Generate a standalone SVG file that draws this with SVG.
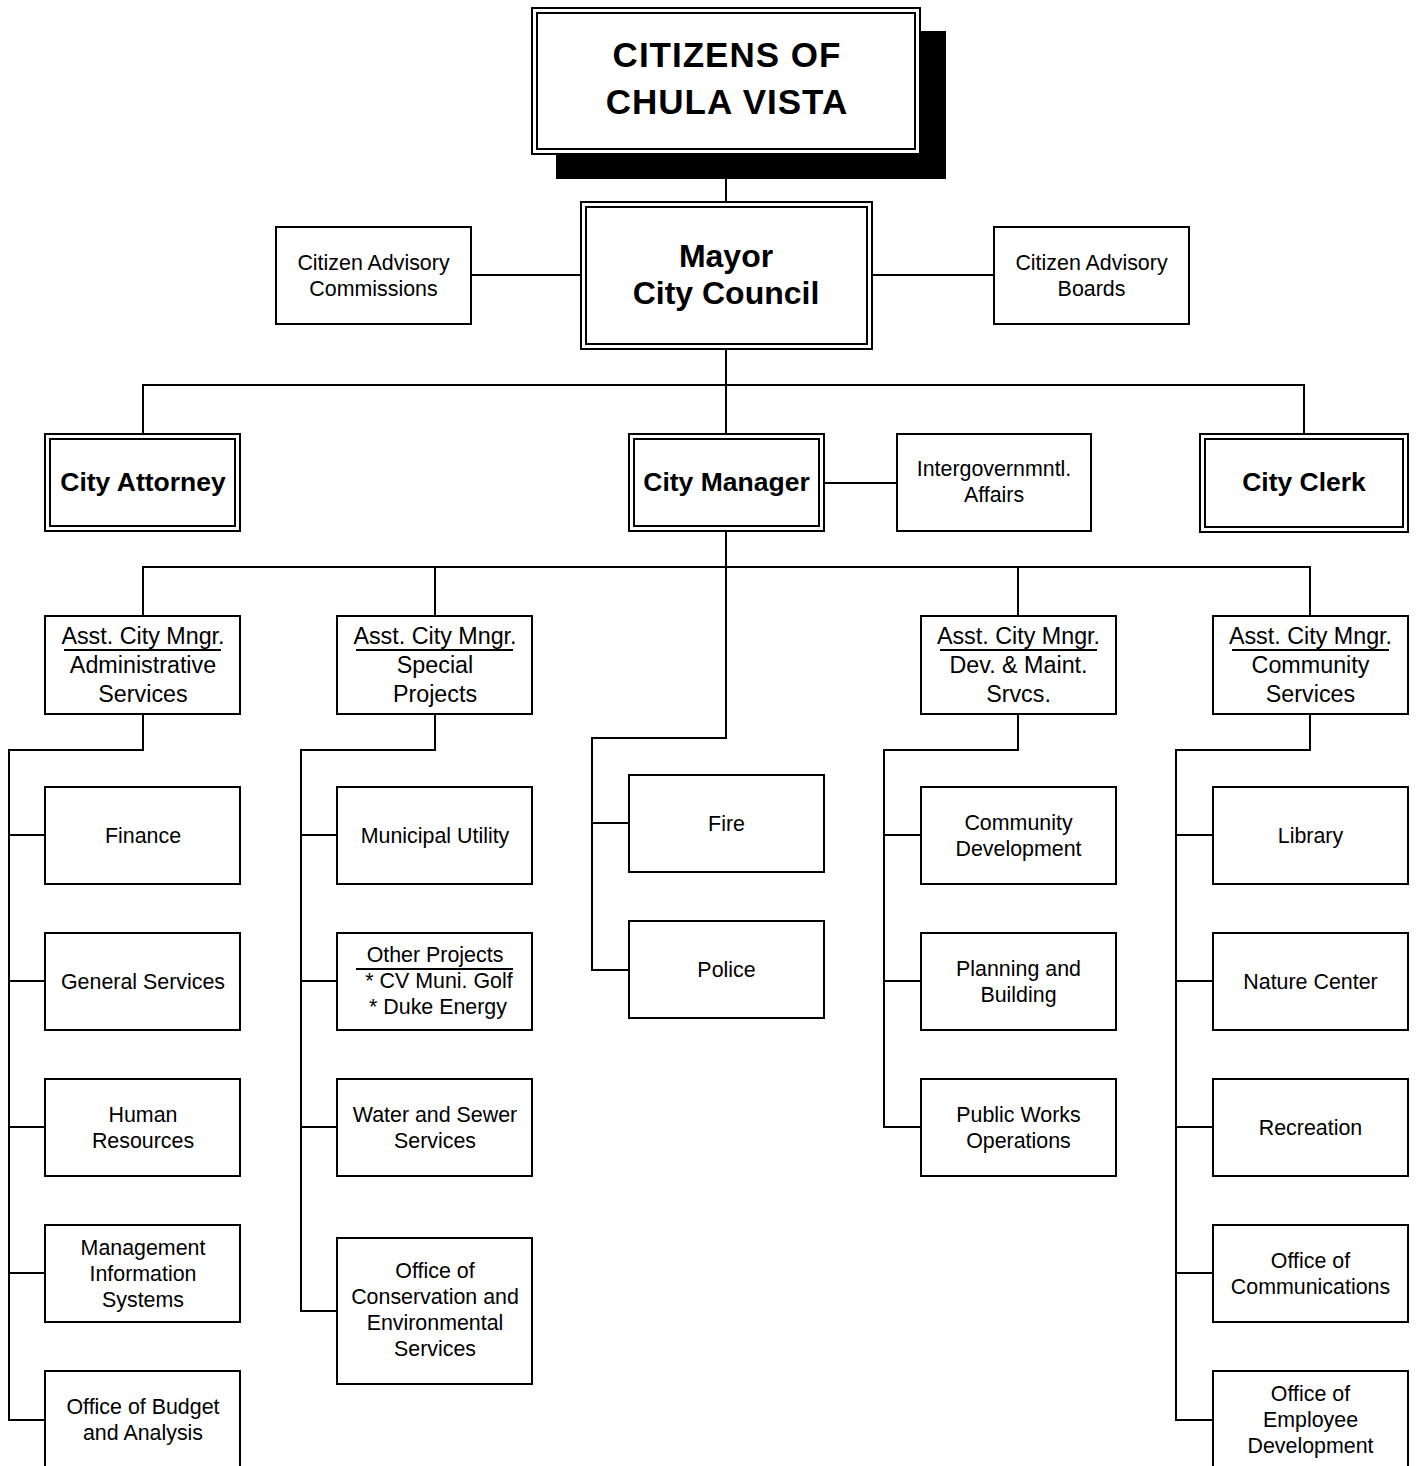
<svg xmlns="http://www.w3.org/2000/svg" width="1416" height="1466" viewBox="0 0 1416 1466">
<style>
.b{fill:#fff;stroke:#000;stroke-width:2}
.c{fill:none;stroke:#000;stroke-width:2}
text{font-family:"Liberation Sans",Arial,sans-serif;fill:#000;text-anchor:middle}
.t{font-size:21.4px}
.a{font-size:23.3px}
.h{font-size:26.5px;font-weight:bold}
.m{font-size:32px;font-weight:bold}
.x{font-size:35px;font-weight:bold;letter-spacing:1px}
.u{stroke:#000;stroke-width:2}
</style>
<rect width="1416" height="1466" fill="#fff"/>
<g id="connectors" class="c">
<path d="M726,179V202"/>
<path d="M471,275H580M872,275H994"/>
<path d="M726,349V434M143,434V385H1304V434"/>
<path d="M824,483H897"/>
<path d="M726,531V738H592V970H629M592,823H629"/>
<path d="M143,616V567H1310V616M435,567V616M1018,567V616"/>
<path d="M143,714V750H9V1420H45M9,835H45M9,981H45M9,1127H45M9,1273H45"/>
<path d="M435,714V750H301V1311H337M301,835H337M301,981H337M301,1127H337"/>
<path d="M1018,714V750H884V1127H921M884,835H921M884,981H921"/>
<path d="M1310,714V750H1176V1420H1213M1176,835H1213M1176,981H1213M1176,1127H1213M1176,1273H1213"/>
</g>
<g id="citizens">
<rect x="556" y="31" width="390" height="148" fill="#000"/>
<rect class="b" x="532" y="8" width="388" height="146"/>
<rect class="c" x="537" y="13" width="378" height="136"/>
<text class="x" x="727" y="67">CITIZENS OF</text>
<text class="x" x="727" y="114">CHULA VISTA</text>
</g>
<g id="mayor">
<rect class="b" x="581" y="202" width="291" height="147"/>
<rect class="c" x="586" y="207" width="281" height="137"/>
<text class="m" x="726" y="267">Mayor</text>
<text class="m" x="726" y="304">City Council</text>
</g>
<g id="commissions">
<rect class="b" x="276" y="227" width="195" height="97"/>
<text class="t" x="373.5" y="270">Citizen Advisory</text>
<text class="t" x="373.5" y="296">Commissions</text>
</g>
<g id="boards">
<rect class="b" x="994" y="227" width="195" height="97"/>
<text class="t" x="1091.5" y="270">Citizen Advisory</text>
<text class="t" x="1091.5" y="296">Boards</text>
</g>
<g id="attorney">
<rect class="b" x="45" y="434" width="195" height="97"/>
<rect class="c" x="50" y="439" width="185" height="87"/>
<text class="h" x="143" y="491">City Attorney</text>
</g>
<g id="manager">
<rect class="b" x="629" y="434" width="195" height="97"/>
<rect class="c" x="634" y="439" width="185" height="87"/>
<text class="h" x="726.5" y="491">City Manager</text>
</g>
<g id="intergov">
<rect class="b" x="897" y="434" width="194" height="97"/>
<text class="t" x="994" y="476">Intergovernmntl.</text>
<text class="t" x="994" y="502">Affairs</text>
</g>
<g id="clerk">
<rect class="b" x="1200" y="434" width="208" height="98"/>
<rect class="c" x="1205" y="439" width="198" height="88"/>
<text class="h" x="1304" y="491">City Clerk</text>
</g>
<g id="acm-admin">
<rect class="b" x="45" y="616" width="195" height="98"/>
<text class="a" x="143" y="644">Asst. City Mngr.</text>
<line class="u" x1="64" y1="650" x2="221" y2="650"/>
<text class="a" x="143" y="673">Administrative</text>
<text class="a" x="143" y="702">Services</text>
</g>
<g id="acm-special">
<rect class="b" x="337" y="616" width="195" height="98"/>
<text class="a" x="435" y="644">Asst. City Mngr.</text>
<line class="u" x1="356" y1="650" x2="513" y2="650"/>
<text class="a" x="435" y="673">Special</text>
<text class="a" x="435" y="702">Projects</text>
</g>
<g id="acm-dev">
<rect class="b" x="921" y="616" width="195" height="98"/>
<text class="a" x="1018.5" y="644">Asst. City Mngr.</text>
<line class="u" x1="940" y1="650" x2="1097" y2="650"/>
<text class="a" x="1018.5" y="673">Dev. &amp; Maint.</text>
<text class="a" x="1018.5" y="702">Srvcs.</text>
</g>
<g id="acm-community">
<rect class="b" x="1213" y="616" width="195" height="98"/>
<text class="a" x="1310.5" y="644">Asst. City Mngr.</text>
<line class="u" x1="1232" y1="650" x2="1389" y2="650"/>
<text class="a" x="1310.5" y="673">Community</text>
<text class="a" x="1310.5" y="702">Services</text>
</g>
<g id="finance">
<rect class="b" x="45" y="787" width="195" height="97"/>
<text class="t" x="143" y="843">Finance</text>
</g>
<g id="general-services">
<rect class="b" x="45" y="933" width="195" height="97"/>
<text class="t" x="143" y="989">General Services</text>
</g>
<g id="human-resources">
<rect class="b" x="45" y="1079" width="195" height="97"/>
<text class="t" x="143" y="1122">Human</text>
<text class="t" x="143" y="1148">Resources</text>
</g>
<g id="mis">
<rect class="b" x="45" y="1225" width="195" height="97"/>
<text class="t" x="143" y="1255">Management</text>
<text class="t" x="143" y="1281">Information</text>
<text class="t" x="143" y="1307">Systems</text>
</g>
<g id="budget">
<rect class="b" x="45" y="1371" width="195" height="97"/>
<text class="t" x="143" y="1414">Office of Budget</text>
<text class="t" x="143" y="1440">and Analysis</text>
</g>
<g id="municipal-utility">
<rect class="b" x="337" y="787" width="195" height="97"/>
<text class="t" x="435" y="843">Municipal Utility</text>
</g>
<g id="other-projects">
<rect class="b" x="337" y="933" width="195" height="97"/>
<text class="t" x="435" y="962">Other Projects</text>
<line class="u" x1="356" y1="969" x2="513" y2="969"/>
<text class="t" x="439" y="988">* CV Muni. Golf</text>
<text class="t" x="438" y="1014">* Duke Energy</text>
</g>
<g id="water-sewer">
<rect class="b" x="337" y="1079" width="195" height="97"/>
<text class="t" x="435" y="1122">Water and Sewer</text>
<text class="t" x="435" y="1148">Services</text>
</g>
<g id="conservation">
<rect class="b" x="337" y="1238" width="195" height="146"/>
<text class="t" x="435" y="1278">Office of</text>
<text class="t" x="435" y="1304">Conservation and</text>
<text class="t" x="435" y="1330">Environmental</text>
<text class="t" x="435" y="1356">Services</text>
</g>
<g id="fire">
<rect class="b" x="629" y="775" width="195" height="97"/>
<text class="t" x="726.5" y="831">Fire</text>
</g>
<g id="police">
<rect class="b" x="629" y="921" width="195" height="97"/>
<text class="t" x="726.5" y="977">Police</text>
</g>
<g id="community-development">
<rect class="b" x="921" y="787" width="195" height="97"/>
<text class="t" x="1018.5" y="830">Community</text>
<text class="t" x="1018.5" y="856">Development</text>
</g>
<g id="planning-building">
<rect class="b" x="921" y="933" width="195" height="97"/>
<text class="t" x="1018.5" y="976">Planning and</text>
<text class="t" x="1018.5" y="1002">Building</text>
</g>
<g id="public-works">
<rect class="b" x="921" y="1079" width="195" height="97"/>
<text class="t" x="1018.5" y="1122">Public Works</text>
<text class="t" x="1018.5" y="1148">Operations</text>
</g>
<g id="library">
<rect class="b" x="1213" y="787" width="195" height="97"/>
<text class="t" x="1310.5" y="843">Library</text>
</g>
<g id="nature-center">
<rect class="b" x="1213" y="933" width="195" height="97"/>
<text class="t" x="1310.5" y="989">Nature Center</text>
</g>
<g id="recreation">
<rect class="b" x="1213" y="1079" width="195" height="97"/>
<text class="t" x="1310.5" y="1135">Recreation</text>
</g>
<g id="communications">
<rect class="b" x="1213" y="1225" width="195" height="97"/>
<text class="t" x="1310.5" y="1268">Office of</text>
<text class="t" x="1310.5" y="1294">Communications</text>
</g>
<g id="employee-development">
<rect class="b" x="1213" y="1371" width="195" height="97"/>
<text class="t" x="1310.5" y="1401">Office of</text>
<text class="t" x="1310.5" y="1427">Employee</text>
<text class="t" x="1310.5" y="1453">Development</text>
</g>
</svg>
